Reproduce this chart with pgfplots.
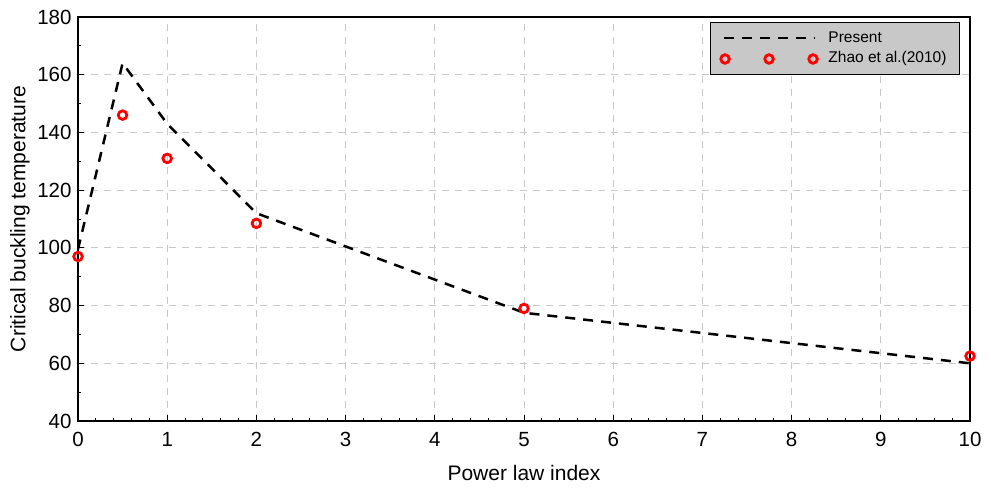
\documentclass[border=0pt]{standalone}
\usepackage{pgfplots}
\pgfplotsset{compat=1.18}
\usepackage{fontspec}
\setmainfont{Liberation Sans}
\usetikzlibrary{calc}
\definecolor{leggray}{RGB}{200,200,200}
\definecolor{gridgray}{RGB}{200,200,200}
\pgfplotsset{
  linelegend/.style={legend image code/.code={\draw[##1] (0pt,0pt) -- (91pt,0pt); \path (100pt,0pt);}},
  marklegend/.style={legend image code/.code={\draw[##1] plot coordinates {(1pt,0pt) (45pt,0pt) (89pt,0pt)}; \path (0pt,0pt) (100pt,0pt);}},
}
\begin{document}
\begin{tikzpicture}
\begin{axis}[name=ax, scale only axis, width=892pt, height=404pt,
  xmin=0, xmax=10, ymin=40, ymax=180,
  xtick={0,1,...,10}, ytick={40,60,...,180},
  minor x tick num=4, minor y tick num=1,
  xtick pos=bottom, ytick pos=left,
  tick align=inside,
  major tick length=6pt, minor tick length=3pt,
  tick style={black, line width=1pt},
  axis line style={line width=1.5pt},
  grid=major,
  major grid style={gridgray, line width=1pt, dash pattern=on 7pt off 6pt},
  tick label style={font=\fontsize{20.5}{20.5}\selectfont},
  xticklabel style={yshift=-8pt},
  yticklabel style={xshift=-3pt},
  label style={font=\fontsize{21}{21}\selectfont},
  /pgf/number format/assume math mode=true,
  xlabel={Power law index},
  ylabel={Critical buckling temperature},
  xlabel style={at={($(rel axis cs:0.5,0)+(0,-59pt)$)}, anchor=base},
  ylabel style={at={($(rel axis cs:0,0.5)+(-52.5pt,0)$)}, anchor=base},
  legend cell align=left,
  legend style={at={(rel axis cs:1,1)}, anchor=north east, xshift=-10pt, yshift=-5pt,
    fill=leggray, draw=black, line width=1pt,
    font=\fontsize{15.5}{15.5}\selectfont,
    nodes={inner sep=3pt, text height=11.5pt, text depth=3.5pt},
    row sep=0pt, inner xsep=10pt, inner ysep=5pt},
]
\addplot[black, line width=2.5pt, dash pattern=on 10pt off 8pt, linelegend]
  coordinates {(0,99.5) (0.5,164) (1,143) (2,112) (5,77.5) (10,60)};
\addlegendentry{Present}
\addplot[only marks, mark=o, red, mark size=4.3pt, line width=2.8pt,
  mark options={fill=white}, marklegend]
  coordinates {(0,97) (0.5,146) (1,131) (2,108.5) (5,79) (10,62.5)};
\addlegendentry{Zhao et al.(2010)}
\end{axis}
\pgfresetboundingbox
\useasboundingbox ($(ax.south west)+(-78pt,-67pt)$) rectangle ($(ax.north east)+(19pt,17pt)$);
\end{tikzpicture}
\end{document}
